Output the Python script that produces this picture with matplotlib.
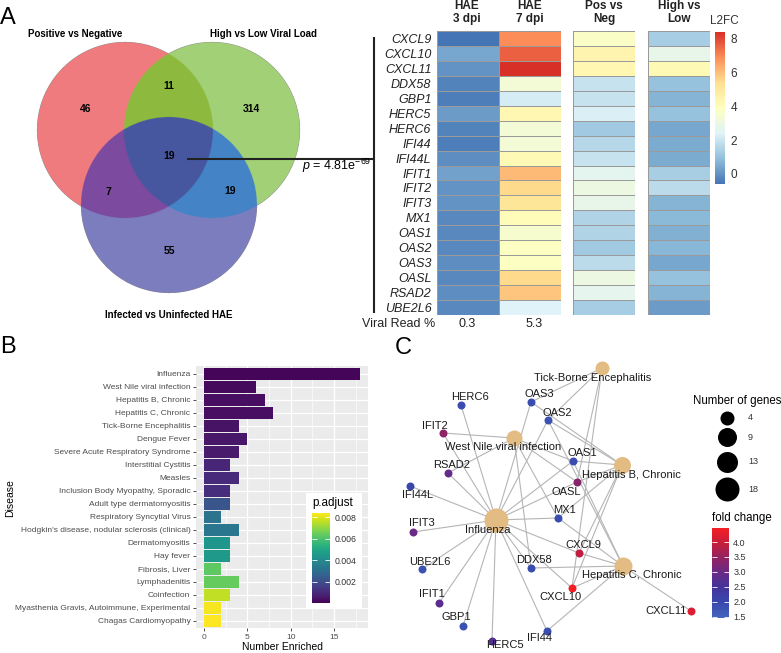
import numpy as np
import matplotlib.pyplot as plt
from matplotlib.colors import LinearSegmentedColormap, Normalize, to_rgba
from matplotlib.cm import ScalarMappable

plt.rcParams['font.family'] = ['Liberation Sans', 'DejaVu Sans']
plt.rcParams['mathtext.fontset'] = 'custom'
plt.rcParams['mathtext.rm'] = 'Liberation Sans'
plt.rcParams['mathtext.it'] = 'Liberation Sans:italic'

W, H = 781, 653

# ---------------- data: panel A (venn + heatmap)
venn_sets = ['Positive vs Negative', 'High vs Low Viral Load', 'Infected vs Uninfected HAE']
venn_regions = ['100', '010', '001', '110', '101', '011', '111']
venn_counts = [46, 314, 55, 11, 7, 19, 19]
overlap_p = r'$p$ = 4.81e$^{-69}$'

genes = ['CXCL9', 'CXCL10', 'CXCL11', 'DDX58', 'GBP1', 'HERC5', 'HERC6', 'IFI44',
         'IFI44L', 'IFIT1', 'IFIT2', 'IFIT3', 'MX1', 'OAS1', 'OAS2', 'OAS3', 'OASL',
         'RSAD2', 'UBE2L6']
hm_columns = ['HAE\n3 dpi', 'HAE\n7 dpi', 'Pos vs\nNeg', 'High vs\nLow']
l2fc_hae3 = [-0.6, 0.4, 0.0, -0.3, -0.4, 0.2, -0.3, -0.4, -0.1, 0.3, 0.0, 0.0,
             -0.2, -0.2, -0.2, -0.1, -0.2, -0.1, -0.2]
l2fc_hae7 = [6.9, 7.6, 8.4, 3.3, 2.2, 4.3, 3.3, 3.3, 4.2, 6.1, 5.5, 5.1, 4.1, 3.5,
             3.8, 3.8, 5.5, 5.9, 2.4]
l2fc_posneg = [3.7, 4.4, 4.3, 1.9, 1.9, 2.3, 1.2, 1.6, 1.9, 2.6, 3.0, 2.8, 1.5, 1.5,
               1.2, 1.7, 3.0, 2.7, 1.3]
l2fc_highlow = [1.3, 2.8, 4.2, 1.0, 0.7, 1.0, 0.4, 0.5, 0.5, 1.35, 1.7, 0.7, 0.8, 0.6,
                0.75, 0.4, 1.0, 0.7, 0.2]
viral_read = ['0.3', '5.3']

# ---------------- data: panel B
diseases = ['Influenza', 'West Nile viral infection', 'Hepatitis B, Chronic',
            'Hepatitis C, Chronic', 'Tick-Borne Encephalitis', 'Dengue Fever',
            'Severe Acute Respiratory Syndrome', 'Interstitial Cystitis', 'Measles',
            'Inclusion Body Myopathy, Sporadic', 'Adult type dermatomyositis',
            'Respiratory Syncytial Virus', "Hodgkin's disease, nodular sclerosis (clinical)",
            'Dermatomyositis', 'Hay fever', 'Fibrosis, Liver', 'Lymphadenitis',
            'Coinfection', 'Myasthenia Gravis, Autoimmune, Experimental',
            'Chagas Cardiomyopathy']
n_enriched = [18, 6, 7, 8, 4, 5, 4, 3, 4, 3, 3, 2, 4, 3, 3, 2, 4, 3, 2, 2]
p_adjust = [0.0001, 0.0002, 0.0003, 0.0003, 0.0004, 0.0005, 0.0006, 0.0009, 0.0010,
            0.0011, 0.0022, 0.0032, 0.0033, 0.0044, 0.0045, 0.0063, 0.0064, 0.0076,
            0.0083, 0.0084]

# ---------------- data: panel C
net_diseases = ['Influenza', 'West Nile viral infection', 'Hepatitis B, Chronic',
                'Hepatitis C, Chronic', 'Tick-Borne Encephalitis']
net_genes = ['HERC6', 'OAS3', 'OAS2', 'IFIT2', 'RSAD2', 'OAS1', 'OASL', 'IFI44L', 'MX1',
             'IFIT3', 'CXCL9', 'DDX58', 'UBE2L6', 'CXCL10', 'IFIT1', 'GBP1', 'IFI44',
             'HERC5', 'CXCL11']
fold_change = [1.9, 1.9, 1.8, 3.4, 2.9, 1.9, 3.3, 2.0, 1.9, 3.0, 3.9, 1.9, 1.8, 4.45,
               2.8, 1.8, 1.9, 2.7, 4.2]
west_nile_genes = ['IFIT2', 'RSAD2', 'OAS1', 'DDX58', 'MX1', 'OASL']
hep_b_genes = ['OAS1', 'OAS2', 'OAS3', 'OASL', 'MX1', 'CXCL9', 'CXCL10']
hep_c_genes = ['CXCL9', 'CXCL10', 'CXCL11', 'DDX58', 'IFI44', 'MX1', 'OAS1', 'OAS2']
tbe_genes = ['OAS3', 'OAS2', 'OASL', 'CXCL10']
influenza_genes = [g for g in net_genes if g != 'CXCL11']
size_legend = [4, 9, 13, 18]

# ---------------- layout (pixel positions)
node_xy = {'Influenza': (496, 520), 'West Nile viral infection': (514, 438),
           'Hepatitis B, Chronic': (622, 465), 'Hepatitis C, Chronic': (623, 566),
           'Tick-Borne Encephalitis': (602, 368),
           'HERC6': (461, 405), 'OAS3': (531, 402), 'OAS2': (548, 420), 'IFIT2': (443, 433),
           'RSAD2': (448, 473), 'OAS1': (573, 461), 'OASL': (577, 482), 'IFI44L': (410, 486),
           'MX1': (558, 518), 'IFIT3': (413, 532), 'CXCL9': (579, 553), 'DDX58': (531, 568),
           'UBE2L6': (422, 569), 'CXCL10': (572, 588), 'IFIT1': (439, 603), 'GBP1': (463, 626),
           'IFI44': (547, 631), 'HERC5': (492, 641), 'CXCL11': (691, 611)}
label_xy = {'Influenza': (488, 530), 'West Nile viral infection': (503, 447),
            'Hepatitis B, Chronic': (631, 475), 'Hepatitis C, Chronic': (632, 575),
            'Tick-Borne Encephalitis': (593, 378),
            'HERC6': (470, 397), 'OAS3': (539, 394), 'OAS2': (557, 413), 'IFIT2': (435, 426),
            'RSAD2': (452, 465), 'OAS1': (582, 453), 'OASL': (566, 492), 'IFI44L': (418, 495),
            'MX1': (565, 510), 'IFIT3': (422, 523), 'CXCL9': (583, 545), 'DDX58': (534, 560),
            'UBE2L6': (430, 562), 'CXCL10': (560, 597), 'IFIT1': (432, 594), 'GBP1': (456, 617),
            'IFI44': (539, 638), 'HERC5': (505, 645), 'CXCL11': (666, 611)}


def px_axes(x0, y0, x1, y1):
    return fig.add_axes([x0 / W, 1 - y1 / H, (x1 - x0) / W, (y1 - y0) / H])


def node_diam(n):
    return np.interp(n, [4, 9, 13, 18], [14, 19, 21, 24])


fig = plt.figure(figsize=(W / 100, H / 100), dpi=100)
ax0 = px_axes(0, 0, W, H)
ax0.axis('off')

# ---- venn (region colours)
circles = [(125, 130), (212, 130), (169, 205)]
rad = 88
region_col = {'100': '#F07B7F', '010': '#A2D077', '001': '#7B7DBE', '110': '#8DBA3E',
              '101': '#7C4A9E', '011': '#4484C6', '111': '#4658A0'}
gx0, gx1, gy0, gy1 = 30, 310, 35, 300
gx = np.linspace(gx0, gx1, 1120)
gy = np.linspace(gy0, gy1, 1060)
XX, YY = np.meshgrid(gx, gy)
inside = [((XX - cx) ** 2 + (YY - cy) ** 2) < rad ** 2 for cx, cy in circles]
img = np.zeros(XX.shape + (4,))
for code, col in region_col.items():
    m = np.ones(XX.shape, bool)
    for k, ch in enumerate(code):
        m &= inside[k] if ch == '1' else ~inside[k]
    img[m] = to_rgba(col)
ax0.imshow(img, extent=(gx0, gx1, gy1, gy0), origin='upper', interpolation='antialiased')

region_xy = {'100': (86, 109), '010': (251, 109), '001': (169, 251), '110': (169, 86),
             '101': (108, 192), '011': (230, 191), '111': (169, 156)}
for code, cnt in zip(venn_regions, venn_counts):
    ax0.text(*region_xy[code], str(cnt), ha='center', va='center', fontsize=7.5,
             fontweight='bold')
for name, pos in zip(venn_sets, [(75, 34), (263, 34), (169, 315)]):
    ax0.text(*pos, name, ha='center', va='center', fontsize=7, fontweight='bold')

ax0.plot([187, 374], [159, 159], color='#222222', lw=1.5, solid_capstyle='butt')
ax0.plot([374, 374], [37, 313], color='#222222', lw=1.5, solid_capstyle='butt')
ax0.text(302, 166, overlap_p, ha='left', va='center', fontsize=9)

for letter, pos in zip(['A', 'B', 'C'], [(8, 18), (8, 347), (403, 348)]):
    ax0.text(*pos, letter, ha='center', va='center', fontsize=17)

# ---- heatmap
hm_cmap = LinearSegmentedColormap.from_list(
    'ph', ['#4575B4', '#91BFDB', '#E0F3F8', '#FFFFBF', '#FEE090', '#FC8D59', '#D73027'])
hm_norm = Normalize(-0.6, 8.4)
hm = np.array([l2fc_hae3, l2fc_hae7, l2fc_posneg, l2fc_highlow]).T
ng = len(genes)
blocks = [((437, 561), [0, 1]), ((573, 635), [2]), ((648, 710), [3])]
for bi, ((x0, x1), cols) in enumerate(blocks):
    ax = px_axes(x0, 31, x1, 315)
    ax.pcolormesh(np.arange(len(cols) + 1), np.arange(ng + 1), hm[:, cols],
                  cmap=hm_cmap, norm=hm_norm, edgecolors='#9A9A9A', linewidth=0.5)
    ax.set_xlim(0, len(cols))
    ax.set_ylim(ng, 0)
    ax.set_xticks([])
    for s in ax.spines.values():
        s.set_visible(False)
    if bi == 0:
        ax.set_yticks(np.arange(ng) + 0.5)
        ax.set_yticklabels(genes, fontsize=9, style='italic', color='#222222')
        ax.tick_params(axis='y', length=0, pad=4)
    else:
        ax.set_yticks([])

for label, xc in zip(hm_columns, [467, 530, 604, 679]):
    ax0.text(xc, 12.5, label, ha='center', va='center', fontsize=8.5, fontweight='bold',
             linespacing=1.1, color='#222222')
ax0.text(435, 324, 'Viral Read %', ha='right', va='center', fontsize=9, color='#222222')
for v, xc in zip(viral_read, [467, 534]):
    ax0.text(xc, 324, v, ha='center', va='center', fontsize=9, color='#222222')

cax = px_axes(715, 32, 725, 184)
cb = fig.colorbar(ScalarMappable(hm_norm, hm_cmap), cax=cax, ticks=[0, 2, 4, 6, 8])
cb.outline.set_visible(False)
cax.tick_params(length=0, pad=4, labelsize=8.5, labelcolor='#333333')
ax0.text(724, 21, 'L2FC', ha='center', va='center', fontsize=8.5, color='#333333')

# ---- panel B bar chart
axb = px_axes(196, 366, 368, 628)
p_cmap = plt.get_cmap('viridis')
p_norm = Normalize(0, 0.0084)
yy = np.arange(len(diseases))
axb.barh(yy, n_enriched, height=0.9, color=p_cmap(p_norm(np.array(p_adjust))), zorder=3)
axb.set_facecolor('#EBEBEB')
axb.set_xlim(-0.9, 18.9)
axb.set_ylim(len(diseases) - 0.45, -0.6)
axb.set_xticks([0, 5, 10, 15])
axb.set_xticks([2.5, 7.5, 12.5, 17.5], minor=True)
axb.set_yticks(yy)
axb.set_yticklabels(diseases)
axb.grid(which='major', color='white', lw=0.9)
axb.grid(which='minor', axis='x', color='white', lw=0.45)
axb.set_axisbelow(True)
for s in axb.spines.values():
    s.set_visible(False)
axb.tick_params(which='major', length=2.5, width=0.6, color='#333333', labelsize=6.0,
                labelcolor='#4D4D4D', pad=1.5)
axb.tick_params(which='minor', length=0)
fig.text(10 / W, 1 - 498 / H, 'Disease', rotation=90, ha='center', va='center', fontsize=7.5)
fig.text(282 / W, 1 - 647.5 / H, 'Number Enriched', ha='center', va='center', fontsize=7.5)

box = px_axes(306, 493, 362, 608)
box.set_facecolor('white')
box.set_xticks([])
box.set_yticks([])
for s in box.spines.values():
    s.set_visible(False)
fig.text(312 / W, 1 - 503 / H, 'p.adjust', ha='left', va='center', fontsize=8.4)
caxp = px_axes(312, 513, 330, 603)
cbp = fig.colorbar(ScalarMappable(p_norm, p_cmap), cax=caxp,
                   ticks=[0.002, 0.004, 0.006, 0.008])
cbp.outline.set_visible(False)
caxp.yaxis.set_ticks_position('both')
caxp.tick_params(direction='in', length=3.5, width=0.6, color='white', labelsize=6.3,
                 labelleft=False, labelright=True, labelcolor='#333333', pad=3)

# ---- panel C network
fc_cmap = LinearSegmentedColormap.from_list(
    'fc', [(0.0, '#4566BC'), (0.17, '#3848AE'), (0.35, '#45329A'), (0.51, '#6A2A86'),
           (0.68, '#96225E'), (0.84, '#C81E3A'), (1.0, '#F41E24')])
fc_norm = Normalize(1.45, 4.47)
disease_sets = {'Influenza': influenza_genes, 'West Nile viral infection': west_nile_genes,
                'Hepatitis B, Chronic': hep_b_genes, 'Hepatitis C, Chronic': hep_c_genes,
                'Tick-Borne Encephalitis': tbe_genes}
for d in net_diseases:
    for g in disease_sets[d]:
        (x1, y1), (x2, y2) = node_xy[d], node_xy[g]
        ax0.plot([x1, x2], [y1, y2], color='#B5B5B5', lw=0.8, zorder=1)
for d in net_diseases:
    dpt = node_diam(len(disease_sets[d])) * 0.72
    ax0.scatter(*node_xy[d], s=dpt ** 2, color='#E2BC82', lw=0, zorder=2)
    ax0.text(*label_xy[d], d, ha='center', va='center', fontsize=8, color='#1A1A1A', zorder=3)
for g, fc in zip(net_genes, fold_change):
    ax0.scatter(*node_xy[g], s=(8 * 0.72) ** 2, color=fc_cmap(fc_norm(fc)), lw=0, zorder=2)
    ax0.text(*label_xy[g], g, ha='center', va='center', fontsize=8, color='#1A1A1A', zorder=3)

ax0.text(737, 401, 'Number of genes', ha='center', va='center', fontsize=8.3)
for n, yc in zip(size_legend, [418, 437, 462, 489]):
    ax0.scatter(727, yc, s=(node_diam(n) * 0.72) ** 2, color='black', lw=0)
    ax0.text(748, yc, str(n), ha='left', va='center', fontsize=6.5, color='#333333')
ax0.text(742, 518, 'fold change', ha='center', va='center', fontsize=8.3)
caxf = px_axes(712, 528, 729, 618)
cbf = fig.colorbar(ScalarMappable(fc_norm, fc_cmap), cax=caxf,
                   ticks=[1.5, 2.0, 2.5, 3.0, 3.5, 4.0])
cbf.outline.set_visible(False)
caxf.yaxis.set_ticks_position('both')
caxf.tick_params(direction='in', length=3.5, width=0.6, color='white', labelsize=6.5,
                 labelleft=False, labelright=True, labelcolor='#333333', pad=3)

ax0.set_aspect('auto')
ax0.set_xlim(0, W)
ax0.set_ylim(H, 0)

fig.savefig('out.png', dpi=100)
